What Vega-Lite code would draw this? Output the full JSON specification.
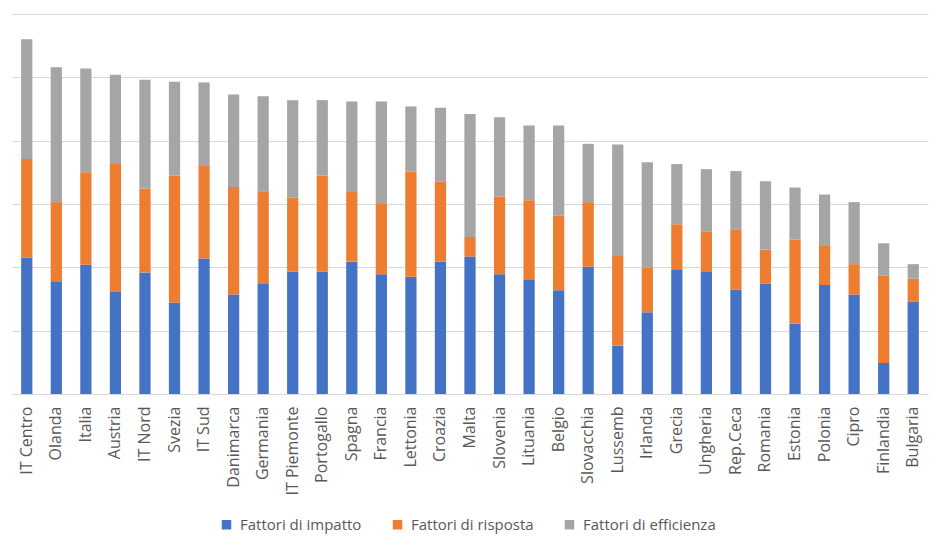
{
  "$schema": "https://vega.github.io/schema/vega-lite/v6.json",
  "width": 916,
  "height": 380,
  "autosize": {"type": "none"},
  "padding": {"left": 12, "top": 14, "right": 19, "bottom": 144},
  "background": "white",
  "config": {
    "view": {"stroke": null},
    "font": "Open Sans"
  },
  "data": {
    "values": [
      {"paese":"IT Centro","fattore":"Fattori di impatto","valore":21.5,"ord":1},
      {"paese":"IT Centro","fattore":"Fattori di risposta","valore":15.6,"ord":2},
      {"paese":"IT Centro","fattore":"Fattori di efficienza","valore":18.9,"ord":3},
      {"paese":"Olanda","fattore":"Fattori di impatto","valore":17.8,"ord":1},
      {"paese":"Olanda","fattore":"Fattori di risposta","valore":12.5,"ord":2},
      {"paese":"Olanda","fattore":"Fattori di efficienza","valore":21.3,"ord":3},
      {"paese":"Italia","fattore":"Fattori di impatto","valore":20.4,"ord":1},
      {"paese":"Italia","fattore":"Fattori di risposta","valore":14.6,"ord":2},
      {"paese":"Italia","fattore":"Fattori di efficienza","valore":16.4,"ord":3},
      {"paese":"Austria","fattore":"Fattori di impatto","valore":16.1,"ord":1},
      {"paese":"Austria","fattore":"Fattori di risposta","valore":20.2,"ord":2},
      {"paese":"Austria","fattore":"Fattori di efficienza","valore":14.1,"ord":3},
      {"paese":"IT Nord","fattore":"Fattori di impatto","valore":19.2,"ord":1},
      {"paese":"IT Nord","fattore":"Fattori di risposta","valore":13.2,"ord":2},
      {"paese":"IT Nord","fattore":"Fattori di efficienza","valore":17.2,"ord":3},
      {"paese":"Svezia","fattore":"Fattori di impatto","valore":14.4,"ord":1},
      {"paese":"Svezia","fattore":"Fattori di risposta","valore":20.1,"ord":2},
      {"paese":"Svezia","fattore":"Fattori di efficienza","valore":14.8,"ord":3},
      {"paese":"IT Sud","fattore":"Fattori di impatto","valore":21.4,"ord":1},
      {"paese":"IT Sud","fattore":"Fattori di risposta","valore":14.6,"ord":2},
      {"paese":"IT Sud","fattore":"Fattori di efficienza","valore":13.2,"ord":3},
      {"paese":"Danimarca","fattore":"Fattori di impatto","valore":15.7,"ord":1},
      {"paese":"Danimarca","fattore":"Fattori di risposta","valore":17.0,"ord":2},
      {"paese":"Danimarca","fattore":"Fattori di efficienza","valore":14.6,"ord":3},
      {"paese":"Germania","fattore":"Fattori di impatto","valore":17.5,"ord":1},
      {"paese":"Germania","fattore":"Fattori di risposta","valore":14.5,"ord":2},
      {"paese":"Germania","fattore":"Fattori di efficienza","valore":15.0,"ord":3},
      {"paese":"IT Piemonte","fattore":"Fattori di impatto","valore":19.3,"ord":1},
      {"paese":"IT Piemonte","fattore":"Fattori di risposta","valore":11.7,"ord":2},
      {"paese":"IT Piemonte","fattore":"Fattori di efficienza","valore":15.4,"ord":3},
      {"paese":"Portogallo","fattore":"Fattori di impatto","valore":19.3,"ord":1},
      {"paese":"Portogallo","fattore":"Fattori di risposta","valore":15.2,"ord":2},
      {"paese":"Portogallo","fattore":"Fattori di efficienza","valore":11.9,"ord":3},
      {"paese":"Spagna","fattore":"Fattori di impatto","valore":20.9,"ord":1},
      {"paese":"Spagna","fattore":"Fattori di risposta","valore":11.0,"ord":2},
      {"paese":"Spagna","fattore":"Fattori di efficienza","valore":14.3,"ord":3},
      {"paese":"Francia","fattore":"Fattori di impatto","valore":18.9,"ord":1},
      {"paese":"Francia","fattore":"Fattori di risposta","valore":11.1,"ord":2},
      {"paese":"Francia","fattore":"Fattori di efficienza","valore":16.2,"ord":3},
      {"paese":"Lettonia","fattore":"Fattori di impatto","valore":18.5,"ord":1},
      {"paese":"Lettonia","fattore":"Fattori di risposta","valore":16.6,"ord":2},
      {"paese":"Lettonia","fattore":"Fattori di efficienza","valore":10.3,"ord":3},
      {"paese":"Croazia","fattore":"Fattori di impatto","valore":20.9,"ord":1},
      {"paese":"Croazia","fattore":"Fattori di risposta","valore":12.6,"ord":2},
      {"paese":"Croazia","fattore":"Fattori di efficienza","valore":11.7,"ord":3},
      {"paese":"Malta","fattore":"Fattori di impatto","valore":21.7,"ord":1},
      {"paese":"Malta","fattore":"Fattori di risposta","valore":3.1,"ord":2},
      {"paese":"Malta","fattore":"Fattori di efficienza","valore":19.4,"ord":3},
      {"paese":"Slovenia","fattore":"Fattori di impatto","valore":18.9,"ord":1},
      {"paese":"Slovenia","fattore":"Fattori di risposta","valore":12.3,"ord":2},
      {"paese":"Slovenia","fattore":"Fattori di efficienza","valore":12.5,"ord":3},
      {"paese":"Lituania","fattore":"Fattori di impatto","valore":18.0,"ord":1},
      {"paese":"Lituania","fattore":"Fattori di risposta","valore":12.6,"ord":2},
      {"paese":"Lituania","fattore":"Fattori di efficienza","valore":11.8,"ord":3},
      {"paese":"Belgio","fattore":"Fattori di impatto","valore":16.4,"ord":1},
      {"paese":"Belgio","fattore":"Fattori di risposta","valore":11.8,"ord":2},
      {"paese":"Belgio","fattore":"Fattori di efficienza","valore":14.2,"ord":3},
      {"paese":"Slovacchia","fattore":"Fattori di impatto","valore":20.1,"ord":1},
      {"paese":"Slovacchia","fattore":"Fattori di risposta","valore":10.2,"ord":2},
      {"paese":"Slovacchia","fattore":"Fattori di efficienza","valore":9.2,"ord":3},
      {"paese":"Lussemb","fattore":"Fattori di impatto","valore":7.6,"ord":1},
      {"paese":"Lussemb","fattore":"Fattori di risposta","valore":14.2,"ord":2},
      {"paese":"Lussemb","fattore":"Fattori di efficienza","valore":17.6,"ord":3},
      {"paese":"Irlanda","fattore":"Fattori di impatto","valore":12.9,"ord":1},
      {"paese":"Irlanda","fattore":"Fattori di risposta","valore":7.1,"ord":2},
      {"paese":"Irlanda","fattore":"Fattori di efficienza","valore":16.6,"ord":3},
      {"paese":"Grecia","fattore":"Fattori di impatto","valore":19.7,"ord":1},
      {"paese":"Grecia","fattore":"Fattori di risposta","valore":7.1,"ord":2},
      {"paese":"Grecia","fattore":"Fattori di efficienza","valore":9.5,"ord":3},
      {"paese":"Ungheria","fattore":"Fattori di impatto","valore":19.4,"ord":1},
      {"paese":"Ungheria","fattore":"Fattori di risposta","valore":6.2,"ord":2},
      {"paese":"Ungheria","fattore":"Fattori di efficienza","valore":9.9,"ord":3},
      {"paese":"Rep.Ceca","fattore":"Fattori di impatto","valore":16.5,"ord":1},
      {"paese":"Rep.Ceca","fattore":"Fattori di risposta","valore":9.5,"ord":2},
      {"paese":"Rep.Ceca","fattore":"Fattori di efficienza","valore":9.2,"ord":3},
      {"paese":"Romania","fattore":"Fattori di impatto","valore":17.4,"ord":1},
      {"paese":"Romania","fattore":"Fattori di risposta","valore":5.4,"ord":2},
      {"paese":"Romania","fattore":"Fattori di efficienza","valore":10.8,"ord":3},
      {"paese":"Estonia","fattore":"Fattori di impatto","valore":11.1,"ord":1},
      {"paese":"Estonia","fattore":"Fattori di risposta","valore":13.3,"ord":2},
      {"paese":"Estonia","fattore":"Fattori di efficienza","valore":8.2,"ord":3},
      {"paese":"Polonia","fattore":"Fattori di impatto","valore":17.2,"ord":1},
      {"paese":"Polonia","fattore":"Fattori di risposta","valore":6.3,"ord":2},
      {"paese":"Polonia","fattore":"Fattori di efficienza","valore":8.0,"ord":3},
      {"paese":"Cipro","fattore":"Fattori di impatto","valore":15.7,"ord":1},
      {"paese":"Cipro","fattore":"Fattori di risposta","valore":4.8,"ord":2},
      {"paese":"Cipro","fattore":"Fattori di efficienza","valore":9.8,"ord":3},
      {"paese":"Finlandia","fattore":"Fattori di impatto","valore":4.9,"ord":1},
      {"paese":"Finlandia","fattore":"Fattori di risposta","valore":13.8,"ord":2},
      {"paese":"Finlandia","fattore":"Fattori di efficienza","valore":5.1,"ord":3},
      {"paese":"Bulgaria","fattore":"Fattori di impatto","valore":14.6,"ord":1},
      {"paese":"Bulgaria","fattore":"Fattori di risposta","valore":3.6,"ord":2},
      {"paese":"Bulgaria","fattore":"Fattori di efficienza","valore":2.3,"ord":3}
    ]
  },
  "mark": {"type": "bar"},
  "encoding": {
    "x": {
      "field": "paese",
      "type": "nominal",
      "sort": null,
      "scale": {"paddingInner": 0.62, "paddingOuter": 0.31},
      "axis": {
        "title": null,
        "labelAngle": -90,
        "labelFont": "Open Sans",
        "labelFontSize": 16,
        "labelColor": "#595959",
        "labelPadding": 12,
        "ticks": false,
        "domainColor": "#d9d9d9",
        "domainWidth": 1,
        "grid": false
      }
    },
    "y": {
      "field": "valore",
      "type": "quantitative",
      "stack": "zero",
      "scale": {"domain": [0, 60], "nice": false},
      "axis": {
        "title": null,
        "labels": false,
        "ticks": false,
        "domain": false,
        "values": [0, 10, 20, 30, 40, 50, 60],
        "grid": true,
        "gridColor": "#d9d9d9",
        "gridWidth": 1
      }
    },
    "color": {
      "field": "fattore",
      "type": "nominal",
      "scale": {
        "domain": ["Fattori di impatto", "Fattori di risposta", "Fattori di efficienza"],
        "range": ["#4472C4", "#ED7D31", "#A5A5A5"]
      },
      "legend": {
        "title": null,
        "orient": "none",
        "direction": "horizontal",
        "legendX": 207,
        "legendY": 503,
        "symbolType": "square",
        "symbolSize": 90,
        "symbolStrokeWidth": 0,
        "labelFont": "Open Sans",
        "labelFontSize": 15,
        "labelColor": "#595959",
        "columnPadding": 28,
        "labelOffset": 6
      }
    },
    "order": {"field": "ord", "type": "quantitative", "sort": "ascending"}
  }
}
